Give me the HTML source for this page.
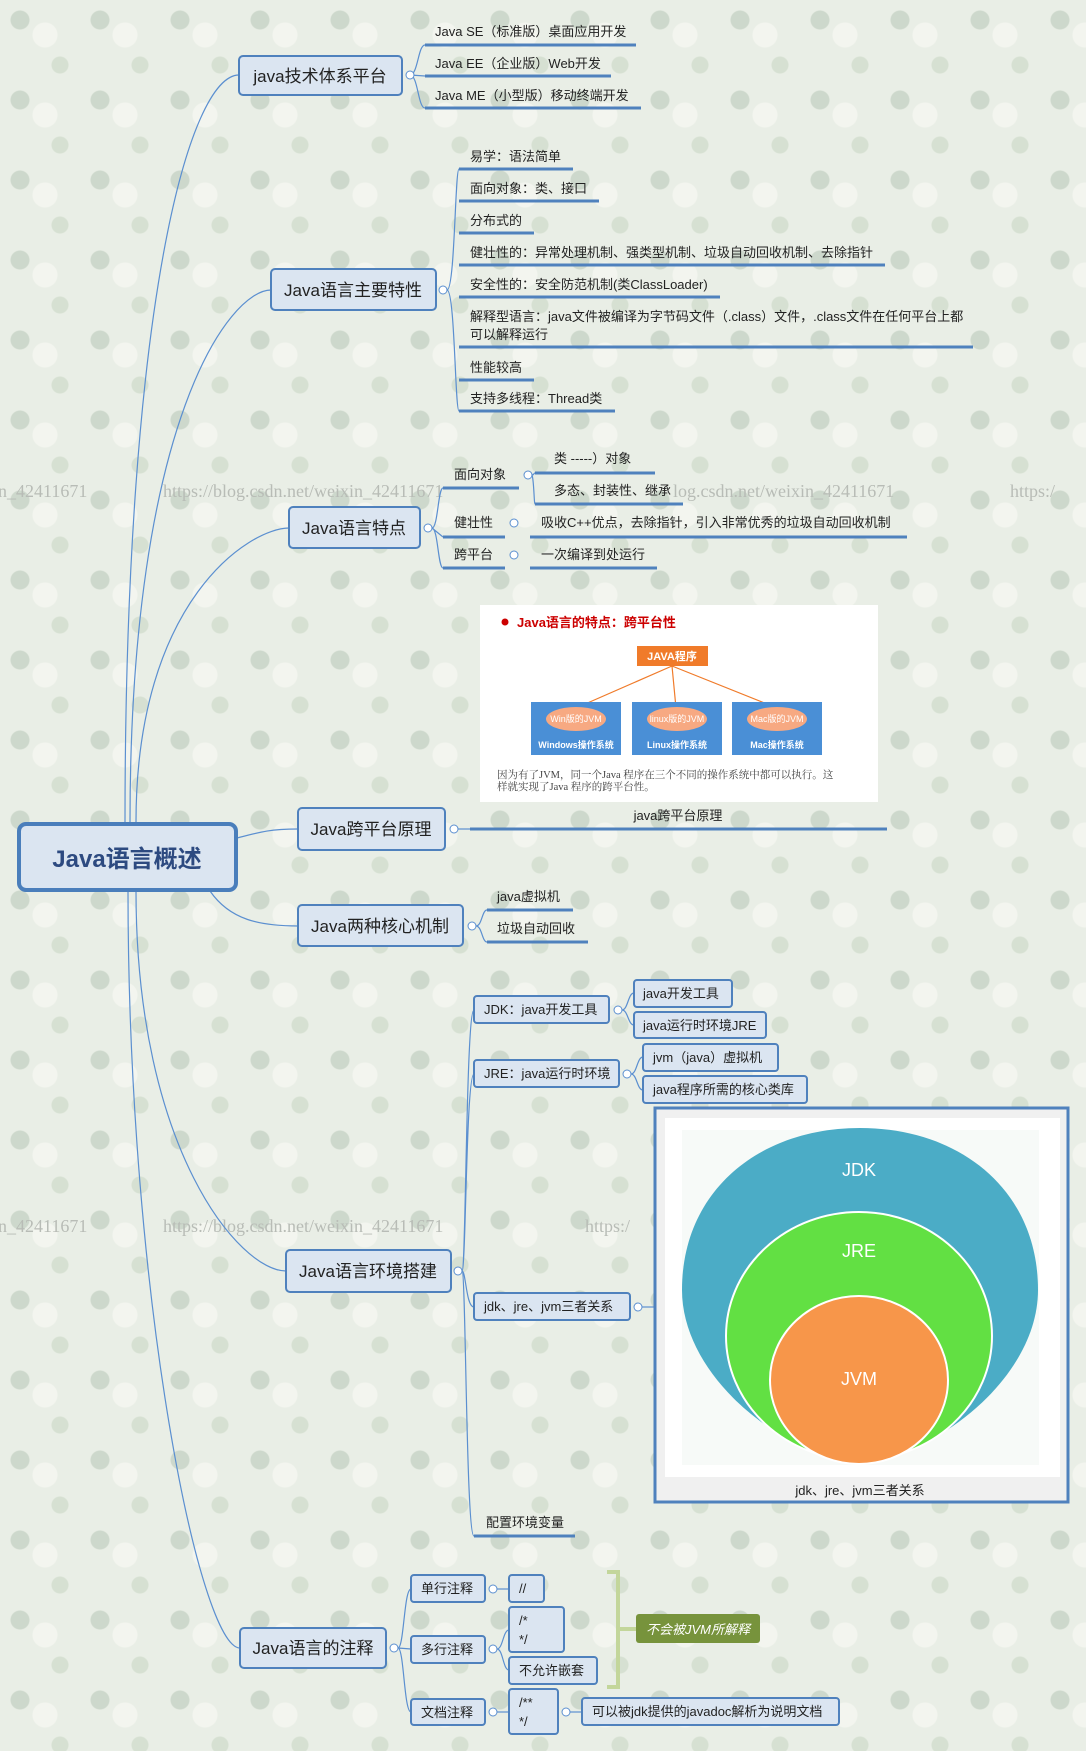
<!DOCTYPE html>
<html><head><meta charset="utf-8">
<style>
html,body{margin:0;padding:0;}
body{width:1086px;height:1751px;overflow:hidden;
background-color:#e9eee6;
background-image:radial-gradient(circle at 20px 20px,#cdd8cc 0 9px,transparent 10px),radial-gradient(circle at 60px 65px,#d6e0d2 0 8px,transparent 9px),radial-gradient(circle at 45px 35px,#f3f5ef 0 12px,transparent 13px);
background-size:80px 80px,80px 80px,80px 80px;}
svg{position:absolute;left:0;top:0;}
text{font-family:"Liberation Sans","Noto Sans CJK SC",sans-serif;fill:#222;}
</style></head><body>
<svg width="1086" height="1751" viewBox="0 0 1086 1751" xmlns="http://www.w3.org/2000/svg">
<defs>
<style>
.b{fill:#dbe5f1;stroke:#4f81bd;stroke-width:2}
.u{stroke:#4f81bd;stroke-width:3}
.c{fill:none;stroke:#5b8fd0;stroke-width:1.2}
.e{fill:#fff;stroke:#5b8fd0;stroke-width:1}
.wm{font-family:"Liberation Serif",serif;font-size:18px;fill:#b8bcb6}
.t13{font-size:13px}
.t16{font-size:17px}
</style>
</defs>
<!-- watermarks -->
<text class="wm" x="-2" y="497">n_42411671</text>
<text class="wm" x="163" y="497">https://blog.csdn.net/weixin_42411671</text>
<text class="wm" x="673" y="497">log.csdn.net/weixin_42411671</text>
<text class="wm" x="1010" y="497">https:/</text>
<text class="wm" x="-2" y="1232">n_42411671</text>
<text class="wm" x="163" y="1232">https://blog.csdn.net/weixin_42411671</text>
<text class="wm" x="585" y="1232">https:/</text>

<!-- root connectors -->
<path class="c" d="M125 822 C125 300,190 75,239 75"/>
<path class="c" d="M130 822 C130 420,230 290,271 290"/>
<path class="c" d="M136 822 C136 600,250 528,289 528"/>
<path class="c" d="M237 838 C260 832,270 829,298 829"/>
<path class="c" d="M210 891 C230 920,260 926,298 926"/>
<path class="c" d="M136 891 C136 1150,240 1271,286 1271"/>
<path class="c" d="M128 891 C128 1300,200 1648,240 1648"/>

<!-- root -->
<rect x="19" y="824" width="217" height="66" rx="7" fill="#dbe5f1" stroke="#4a7ebb" stroke-width="4"/>
<text x="127" y="867" text-anchor="middle" style="font-size:24px;font-weight:bold;fill:#2d4a80">Java语言概述</text>

<!-- java技术体系平台 -->
<rect class="b" x="239" y="56" width="163" height="39" rx="4"/>
<text class="t16" x="320" y="82" text-anchor="middle">java技术体系平台</text>
<path class="c" d="M410 75 C418 75,418 45,425 45 M410 75 L425 76 M410 75 C418 75,418 108,425 108"/>
<circle class="e" cx="410" cy="75" r="4"/>
<line class="u" x1="425" y1="45" x2="636" y2="45"/><text class="t13" x="435" y="36">Java SE（标准版）桌面应用开发</text>
<line class="u" x1="425" y1="76" x2="611" y2="76"/><text class="t13" x="435" y="68">Java EE（企业版）Web开发</text>
<line class="u" x1="425" y1="108" x2="641" y2="108"/><text class="t13" x="435" y="100">Java ME（小型版）移动终端开发</text>

<!-- 主要特性 -->
<rect class="b" x="271" y="269" width="165" height="41" rx="4"/>
<text class="t16" x="353" y="296" text-anchor="middle">Java语言主要特性</text>
<path class="c" d="M447 290 C455 290,455 169,459 169 M447 290 C455 290,455 411,459 411"/>
<circle class="e" cx="443" cy="290" r="4"/>
<line class="u" x1="459" y1="169" x2="573" y2="169"/><text class="t13" x="470" y="161">易学：语法简单</text>
<line class="u" x1="459" y1="201" x2="599" y2="201"/><text class="t13" x="470" y="193">面向对象：类、接口</text>
<line class="u" x1="459" y1="233" x2="534" y2="233"/><text class="t13" x="470" y="225">分布式的</text>
<line class="u" x1="459" y1="265" x2="885" y2="265"/><text class="t13" x="470" y="257">健壮性的：异常处理机制、强类型机制、垃圾自动回收机制、去除指针</text>
<line class="u" x1="459" y1="297" x2="720" y2="297"/><text class="t13" x="470" y="289">安全性的：安全防范机制(类ClassLoader)</text>
<line class="u" x1="459" y1="347" x2="973" y2="347"/><text class="t13" x="470" y="321">解释型语言：java文件被编译为字节码文件（.class）文件，.class文件在任何平台上都</text><text class="t13" x="470" y="339">可以解释运行</text>
<line class="u" x1="459" y1="380" x2="534" y2="380"/><text class="t13" x="470" y="372">性能较高</text>
<line class="u" x1="459" y1="411" x2="615" y2="411"/><text class="t13" x="470" y="403">支持多线程：Thread类</text>

<!-- 特点 -->
<rect class="b" x="289" y="507" width="131" height="41" rx="4"/>
<text class="t16" x="354" y="534" text-anchor="middle">Java语言特点</text>
<circle class="e" cx="428" cy="528" r="4"/>
<path class="c" d="M432 528 C438 528,438 488,443 488 M432 528 C438 528,438 568,443 568 M432 528 L443 537"/>
<line class="u" x1="443" y1="488" x2="519" y2="488"/><text class="t13" x="454" y="479">面向对象</text>
<circle class="e" cx="528" cy="475" r="4"/>
<path class="c" d="M532 475 C534 475,534 473,535 473 M532 475 C534 480,534 504,535 504"/>
<line class="u" x1="535" y1="473" x2="655" y2="473"/><text class="t13" x="554" y="463">类 -----）对象</text>
<line class="u" x1="535" y1="504" x2="683" y2="504"/><text class="t13" x="554" y="495">多态、封装性、继承</text>
<line class="u" x1="443" y1="537" x2="505" y2="537"/><text class="t13" x="454" y="527">健壮性</text>
<circle class="e" cx="514" cy="523" r="4"/>
<line class="u" x1="530" y1="537" x2="907" y2="537"/><text class="t13" x="541" y="527">吸收C++优点，去除指针，引入非常优秀的垃圾自动回收机制</text>
<line class="u" x1="443" y1="568" x2="505" y2="568"/><text class="t13" x="454" y="559">跨平台</text>
<circle class="e" cx="514" cy="555" r="4"/>
<line class="u" x1="530" y1="568" x2="657" y2="568"/><text class="t13" x="541" y="559">一次编译到处运行</text>

<!-- cross-platform image -->
<rect x="480" y="605" width="398" height="197" fill="#fff"/>
<circle cx="505" cy="622" r="3.5" fill="#c00"/>
<text x="517" y="627" style="font-size:13px;font-weight:bold;fill:#c00">Java语言的特点：跨平台性</text>
<rect x="637" y="646" width="71" height="20" fill="#f07b2a"/>
<text x="672" y="660" text-anchor="middle" style="font-size:11px;fill:#fff;font-weight:bold">JAVA程序</text>
<path d="M672 666 L576 708 M672 666 L676 708 M672 666 L777 708" stroke="#f07b2a" stroke-width="1.2" fill="none"/>
<rect x="531" y="702" width="90" height="53" fill="#4a8fd6"/>
<rect x="632" y="702" width="90" height="53" fill="#4a8fd6"/>
<rect x="732" y="702" width="90" height="53" fill="#4a8fd6"/>
<ellipse cx="576" cy="719" rx="30" ry="12" fill="#f7a982"/>
<ellipse cx="677" cy="719" rx="30" ry="12" fill="#f7a982"/>
<ellipse cx="777" cy="719" rx="30" ry="12" fill="#f7a982"/>
<text x="576" y="722" text-anchor="middle" style="font-size:9px;fill:#fff">Win版的JVM</text>
<text x="677" y="722" text-anchor="middle" style="font-size:9px;fill:#fff">linux版的JVM</text>
<text x="777" y="722" text-anchor="middle" style="font-size:9px;fill:#fff">Mac版的JVM</text>
<text x="576" y="748" text-anchor="middle" style="font-size:9px;fill:#fff;font-weight:bold">Windows操作系统</text>
<text x="677" y="748" text-anchor="middle" style="font-size:9px;fill:#fff;font-weight:bold">Linux操作系统</text>
<text x="777" y="748" text-anchor="middle" style="font-size:9px;fill:#fff;font-weight:bold">Mac操作系统</text>
<text x="497" y="778" style="font-size:10.5px;fill:#444;font-family:'Liberation Serif','Noto Serif CJK SC',serif">因为有了JVM，同一个Java 程序在三个不同的操作系统中都可以执行。这</text>
<text x="497" y="790" style="font-size:10.5px;fill:#444;font-family:'Liberation Serif','Noto Serif CJK SC',serif">样就实现了Java 程序的跨平台性。</text>

<!-- 跨平台原理 -->
<rect class="b" x="298" y="808" width="147" height="42" rx="4"/>
<text class="t16" x="371" y="835" text-anchor="middle">Java跨平台原理</text>
<circle class="e" cx="454" cy="829" r="4"/>
<line class="c" x1="458" y1="829" x2="470" y2="829"/>
<line class="u" x1="470" y1="829" x2="887" y2="829"/>
<text class="t13" x="678" y="820" text-anchor="middle">java跨平台原理</text>

<!-- 两种核心机制 -->
<rect class="b" x="298" y="905" width="165" height="41" rx="4"/>
<text class="t16" x="380" y="932" text-anchor="middle">Java两种核心机制</text>
<circle class="e" cx="472" cy="926" r="4"/>
<path class="c" d="M476 926 C482 926,482 910,487 910 M476 926 C482 926,482 942,487 942"/>
<line class="u" x1="487" y1="910" x2="573" y2="910"/><text class="t13" x="497" y="901">java虚拟机</text>
<line class="u" x1="487" y1="942" x2="588" y2="942"/><text class="t13" x="497" y="933">垃圾自动回收</text>

<!-- 环境搭建 -->
<path class="c" d="M462 1271 C466 1271,466 1010,474 1010 M462 1271 C466 1271,466 1074,474 1074 M462 1271 C466 1271,466 1307,474 1307 M462 1271 C466 1271,466 1536,474 1536"/>
<rect class="b" x="286" y="1250" width="165" height="42" rx="4"/>
<text class="t16" x="368" y="1277" text-anchor="middle">Java语言环境搭建</text>
<circle class="e" cx="458" cy="1271" r="4"/>

<path class="c" d="M622 1010 C628 1010,628 993,634 993 M622 1010 C628 1010,628 1025,634 1025"/>
<rect class="b" x="474" y="996" width="135" height="27" rx="3"/>
<text class="t13" x="484" y="1014">JDK：java开发工具</text>
<circle class="e" cx="618" cy="1010" r="4"/>
<rect class="b" x="634" y="980" width="98" height="27" rx="3"/>
<text class="t13" x="643" y="998">java开发工具</text>
<rect class="b" x="634" y="1012" width="132" height="26" rx="3"/>
<text class="t13" x="643" y="1030">java运行时环境JRE</text>

<path class="c" d="M631 1074 C637 1074,637 1057,643 1057 M631 1074 C637 1074,637 1090,643 1090"/>
<rect class="b" x="474" y="1060" width="145" height="27" rx="3"/>
<text class="t13" x="484" y="1078">JRE：java运行时环境</text>
<circle class="e" cx="627" cy="1074" r="4"/>
<rect class="b" x="643" y="1044" width="135" height="27" rx="3"/>
<text class="t13" x="653" y="1062">jvm（java）虚拟机</text>
<rect class="b" x="643" y="1076" width="164" height="27" rx="3"/>
<text class="t13" x="653" y="1094">java程序所需的核心类库</text>

<rect class="b" x="474" y="1293" width="156" height="27" rx="3"/>
<text class="t13" x="484" y="1311">jdk、jre、jvm三者关系</text>
<circle class="e" cx="638" cy="1307" r="4"/>
<line class="c" x1="642" y1="1307" x2="654" y2="1307"/>

<!-- jdk panel -->
<rect x="655" y="1108" width="413" height="394" fill="#f0f0f0" stroke="#4f81bd" stroke-width="3"/>
<rect x="665" y="1118" width="395" height="359" fill="#fff"/>
<rect x="682" y="1130" width="357" height="335" fill="#f7faf8"/>
<path d="M682 1290 C682 1190,760 1128,860 1128 C960 1128,1038 1190,1038 1290 C1038 1380,930 1460,860 1460 C790 1460,682 1380,682 1290 Z" fill="#4bacc6"/>
<ellipse cx="859" cy="1336" rx="133" ry="124" fill="#62e043" stroke="#fff" stroke-width="2"/>
<ellipse cx="859" cy="1380" rx="89" ry="84" fill="#f7964a" stroke="#fff" stroke-width="2"/>
<text x="859" y="1176" text-anchor="middle" style="font-size:18px;fill:#fff">JDK</text>
<text x="859" y="1257" text-anchor="middle" style="font-size:18px;fill:#fff">JRE</text>
<text x="859" y="1385" text-anchor="middle" style="font-size:18px;fill:#fff">JVM</text>
<text class="t13" x="860" y="1495" text-anchor="middle">jdk、jre、jvm三者关系</text>

<line class="u" x1="474" y1="1536" x2="575" y2="1536"/><text class="t13" x="486" y="1527">配置环境变量</text>

<!-- 注释 -->
<path class="c" d="M398 1648 C404 1648,404 1589,411 1589 M398 1648 L411 1649 M398 1648 C404 1648,404 1712,411 1712"/>
<rect class="b" x="240" y="1628" width="146" height="40" rx="4"/>
<text class="t16" x="313" y="1654" text-anchor="middle">Java语言的注释</text>
<circle class="e" cx="394" cy="1648" r="4"/>
<rect class="b" x="411" y="1575" width="74" height="27" rx="3"/><text class="t13" x="421" y="1593">单行注释</text>
<circle class="e" cx="493" cy="1589" r="4"/><line class="c" x1="497" y1="1589" x2="509" y2="1589"/>
<rect class="b" x="509" y="1575" width="35" height="27" rx="3"/><text class="t13" x="519" y="1593">//</text>
<rect class="b" x="411" y="1636" width="74" height="27" rx="3"/><text class="t13" x="421" y="1654">多行注释</text>
<circle class="e" cx="493" cy="1649" r="4"/>
<path class="c" d="M497 1649 C503 1649,503 1630,509 1630 M497 1649 C503 1649,503 1670,509 1670"/>
<rect class="b" x="509" y="1607" width="55" height="45" rx="3"/><text class="t13" x="519" y="1625">/*</text><text class="t13" x="519" y="1644">*/</text>
<rect class="b" x="509" y="1657" width="88" height="27" rx="3"/><text class="t13" x="519" y="1675">不允许嵌套</text>
<rect class="b" x="411" y="1699" width="74" height="26" rx="3"/><text class="t13" x="421" y="1717">文档注释</text>
<circle class="e" cx="493" cy="1712" r="4"/><line class="c" x1="497" y1="1712" x2="509" y2="1712"/>
<rect class="b" x="509" y="1689" width="49" height="45" rx="3"/><text class="t13" x="519" y="1707">/**</text><text class="t13" x="519" y="1726">*/</text>
<circle class="e" cx="566" cy="1712" r="4"/><line class="c" x1="570" y1="1712" x2="582" y2="1712"/>
<rect class="b" x="582" y="1698" width="257" height="27" rx="3"/><text class="t13" x="592" y="1716">可以被jdk提供的javadoc解析为说明文档</text>

<path d="M607 1572 L618 1572 L618 1687 L607 1687 M618 1629 L636 1629" stroke="#c3d69b" stroke-width="4" fill="none"/>
<rect x="636" y="1614" width="124" height="29" rx="3" fill="#77933c"/>
<text x="698" y="1634" text-anchor="middle" style="font-size:13px;fill:#fff;font-style:italic">不会被JVM所解释</text>
</svg>
</body></html>
